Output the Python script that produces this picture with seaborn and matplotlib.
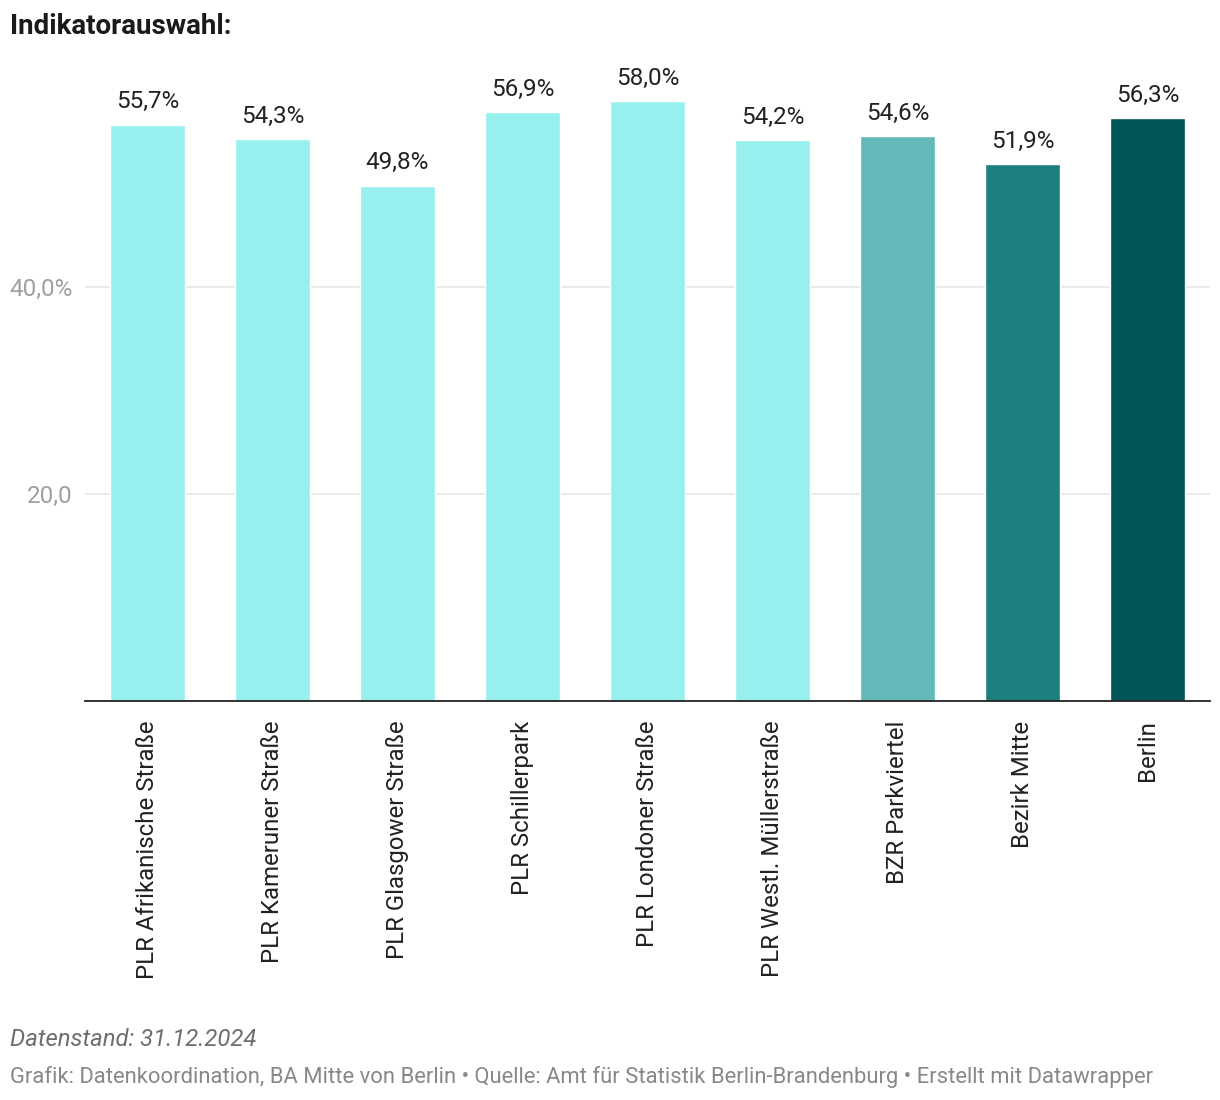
import pandas as pd
import matplotlib.pyplot as plt
import seaborn as sns

# Data
categories = [
    "PLR Afrikanische Straße",
    "PLR Kameruner Straße",
    "PLR Glasgower Straße",
    "PLR Schillerpark",
    "PLR Londoner Straße",
    "PLR Westl. Müllerstraße",
    "BZR Parkviertel",
    "Bezirk Mitte",
    "Berlin",
]
values = [55.7, 54.3, 49.8, 56.9, 58.0, 54.2, 54.6, 51.9, 56.3]
colors = ["#98f0ee"] * 6 + ["#62b9b7", "#1d7f7e", "#005556"]
ytick_values = [20, 40]
ytick_labels = ["20,0", "40,0%"]

df = pd.DataFrame({"category": categories, "value": values})

sns.set_theme(style="white")
plt.rcParams["font.family"] = ["Roboto", "DejaVu Sans"]

fig = plt.figure(figsize=(12.2, 11), dpi=100)
ax = fig.add_axes([85 / 1220, 1 - 701 / 1100, 1125 / 1220, 621 / 1100])

sns.barplot(data=df, x="category", y="value", hue="category", palette=colors,
            width=0.6, saturation=1, legend=False, ax=ax, zorder=2)

ax.set_xlim(-0.5, len(categories) - 0.5)
ax.set_ylim(0, 60)
ax.set_yticks(ytick_values)
ax.set_yticklabels(ytick_labels)
ax.yaxis.grid(True, color="#e6e6e6", linewidth=1.2, zorder=0)
ax.set_axisbelow(True)
ax.tick_params(axis="y", length=0, pad=9, labelsize=17.5, labelcolor="#a0a0a0")
ax.tick_params(axis="x", length=0, pad=14, labelsize=17.3, labelcolor="#222222", rotation=90)
for lbl in ax.get_xticklabels():
    lbl.set_va("top")
ax.set_xlabel("")
ax.set_ylabel("")
for side in ["top", "right", "left"]:
    ax.spines[side].set_visible(False)
ax.spines["bottom"].set_color("#222222")
ax.spines["bottom"].set_linewidth(1.3)

# value labels
for i, v in enumerate(values):
    ax.annotate(f"{v:.1f}%".replace(".", ","), (i, v), xytext=(0, 8),
                textcoords="offset points", ha="center", va="bottom",
                fontsize=17.5, color="#222222")

fig.text(10 / 1220, 1 - 27 / 1100, "Indikatorauswahl:", fontsize=20,
         fontweight="bold", color="#1a1a1a", va="center", ha="left")
fig.text(10 / 1220, 1 - 1040 / 1100, "Datenstand: 31.12.2024", fontsize=17.2,
         style="italic", color="#6e6e6e", va="center", ha="left")
fig.text(10 / 1220, 1 - 1077 / 1100,
         "Grafik: Datenkoordination, BA Mitte von Berlin • Quelle: Amt für Statistik "
         "Berlin-Brandenburg • Erstellt mit Datawrapper",
         fontsize=15.8, color="#888888", va="center", ha="left")

plt.savefig("out.png", dpi=100)
